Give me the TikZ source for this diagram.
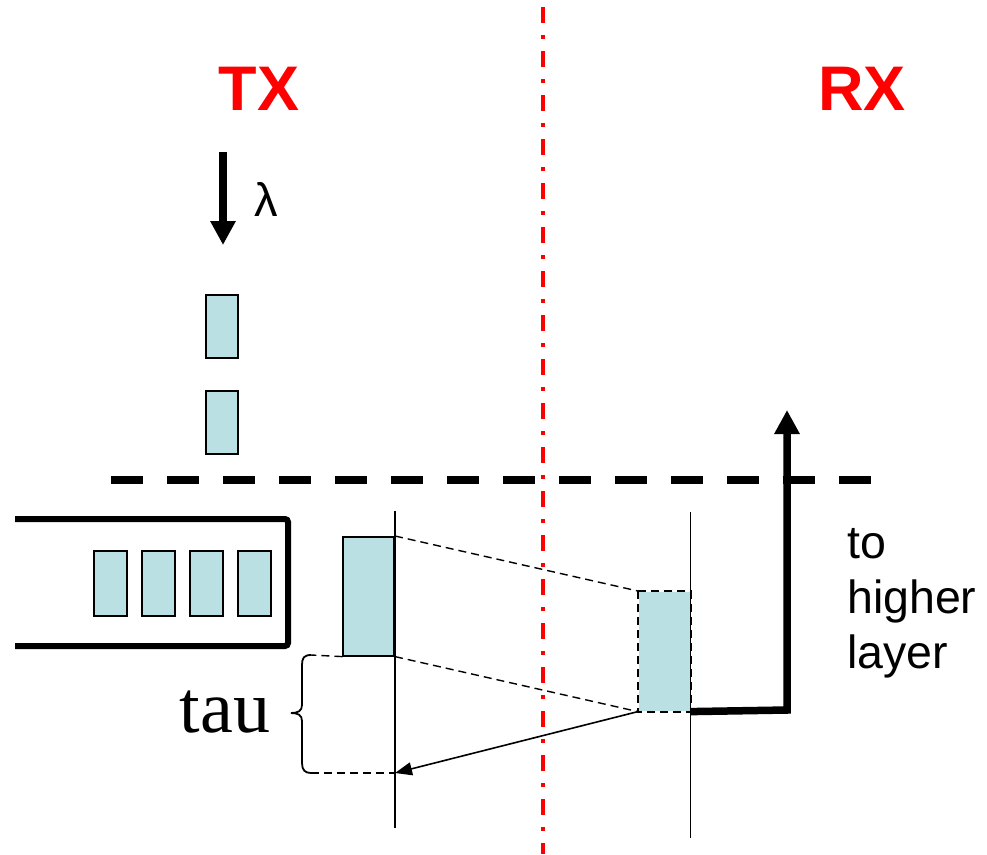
\documentclass[tikz,border=0pt]{standalone}
\usepackage{fontspec}
\setmainfont{Liberation Sans}
\newfontfamily\serifface{Liberation Serif}
\usetikzlibrary{arrows.meta}
\definecolor{pktfill}{HTML}{BBE0E3}
\begin{document}
\begin{tikzpicture}[x=1pt,y=-1pt,
  packet/.style={draw=black,line width=1.6pt,fill=pktfill,inner sep=0pt,
    minimum width=32pt,minimum height=63pt},
  bigpacket/.style={packet,minimum width=51pt,minimum height=119pt},
  thinline/.style={line width=1.6pt},
  guide/.style={line width=1.4pt,dash pattern=on 8pt off 5pt},
  heavy/.style={line width=7.5pt},
  bigtip/.style={-{Triangle[width=24pt,length=24pt]}},
  label/.style={inner sep=0pt,anchor=base},
]
\useasboundingbox (0,0) rectangle (987,854);

% sender / receiver separation
\draw[red,line width=4pt,dash pattern=on 16pt off 12pt on 4pt off 12pt]
  (542.5,7) -- (542.5,854);

% titles
\node[label,text=red,font=\bfseries\fontsize{63}{63}\selectfont] (tx) at (259,110) {TX};
\node[label,text=red,font=\bfseries\fontsize{63}{63}\selectfont] (rx) at (862,110) {RX};

% arrival process
\coordinate (lamtop) at (223,152);
\coordinate (lambot) at (223,245);
\draw[heavy,bigtip] (lamtop) -- (lambot);
\node[label,font=\fontsize{47}{47}\selectfont] (lam) at (266,216) {λ};

% arriving packets
\node[packet] (a1) at (222,326.5) {};
\node[packet] (a2) at (222,422.5) {};

% layer boundary
\coordinate (layL) at (110.7,480);
\coordinate (layR) at (870.7,480);
\draw[line width=7.5pt,dash pattern=on 32pt off 24pt] (layL) -- (layR);

% transmit queue
\draw[line width=6pt,rounded corners=3pt] (15,519) -- (288,519) -- (288,646) -- (15,646);
\node[packet,minimum width=33pt,minimum height=65pt] (q1) at (110.5,583.5) {};
\node[packet,minimum width=33pt,minimum height=65pt] (q2) at (158.5,583.5) {};
\node[packet,minimum width=33pt,minimum height=65pt] (q3) at (206.5,583.5) {};
\node[packet,minimum width=33pt,minimum height=65pt] (q4) at (254.5,583.5) {};

% time axes
\coordinate (txtop) at (395,511);
\coordinate (txbot) at (395,828);
\coordinate (rxtop) at (690.5,512);
\coordinate (rxbot) at (690.5,838);
\draw[thinline] (txtop) -- (txbot);
\draw[thinline] (rxtop) -- (rxbot);

% packet in flight
\node[bigpacket,anchor=north east] (tp) at (395,536) {};
\node[bigpacket,anchor=north east,draw=none] (rp) at (690.5,591) {};
\draw[line width=2pt,dash pattern=on 8pt off 5pt] (rp.north west) rectangle (rp.south east);
\draw[guide] (tp.north east) -- (rp.north west);
\draw[guide] (tp.south east) -- (rp.south west);

% acknowledgement back to sender
\coordinate (ackend) at (395,773);
\draw[thinline,-{Triangle[width=13pt,length=17pt]}] (rp.south west) -- (ackend);

% delay brace
\coordinate (brtop) at (311,655);
\coordinate (brbot) at (311,773);
\draw[guide] (tp.south west) -- (brtop);
\draw[guide] (brbot) -- (ackend);
\draw[line width=1.8pt] (brtop) .. controls (304,655) and (302,658) .. (302,665)
  -- (302,705) .. controls (302,711) and (298,713) .. (291,713)
  .. controls (298,713) and (302,715) .. (302,721)
  -- (302,763) .. controls (302,770) and (305,773) .. (brbot);
\node[label,font=\serifface\fontsize{74}{74}\selectfont] (tau) at (225,732) {tau};

% delivery upward
\coordinate (upcorner) at (787,710);
\coordinate (uptip) at (787,410);
\draw[heavy,bigtip] (rp.south east) -- (upcorner) -- (uptip);
\node[anchor=base west,inner sep=0pt,align=left,font=\fontsize{46.5}{55}\selectfont]
  (up) at (847,668) {to\\higher\\layer};
\end{tikzpicture}
\end{document}
